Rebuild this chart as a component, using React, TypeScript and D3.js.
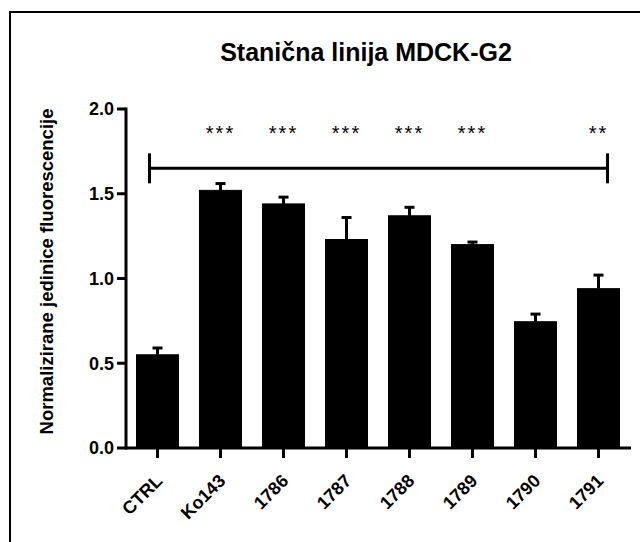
import * as d3 from 'd3';

const categories = ['CTRL', 'Ko143', '1786', '1787', '1788', '1789', '1790', '1791'];
const means = [0.55, 1.52, 1.44, 1.23, 1.37, 1.20, 0.745, 0.94];
const errors = [0.04, 0.04, 0.04, 0.13, 0.05, 0.015, 0.045, 0.08];
const stars = ['', '***', '***', '***', '***', '***', '', '**'];
const yTicks = [0, 0.5, 1.0, 1.5, 2.0];
const bracketLevel = 1.65;

const W = 640;
const H = 542;
const AXIS_LEFT = 126;
const AXIS_RIGHT = 631;
const FONT = '"Liberation Sans", Arial, Helvetica, sans-serif';

export default function App() {
  const x = d3.scaleBand<string>()
    .domain(categories)
    .range([AXIS_LEFT, AXIS_LEFT + 504])
    .paddingInner(1 / 3)
    .paddingOuter(1 / 6);

  const y = d3.scaleLinear().domain([0, 2]).range([448, 109]);

  const cx = (c: string) => (x(c) ?? 0) + x.bandwidth() / 2;
  const bracketLeft = cx(categories[0]) - 8;
  const bracketRight = cx(categories[categories.length - 1]) + 9;
  const by = y(bracketLevel);

  return (
    <svg width={W} height={H} style={{ position: 'absolute', left: 0, top: 0, background: '#fff' }}
      fontFamily={FONT}>
      {/* frame (cut off at right and bottom) */}
      <rect x={10} y={12} width={660} height={560} fill="none" stroke="#000" strokeWidth={2} />

      <text x={366} y={61} textAnchor="middle" fontSize={25} fontWeight="bold">
        Stanična linija MDCK-G2
      </text>

      {/* bars */}
      {categories.map((c, i) => (
        <rect key={c} x={x(c)} y={y(means[i])} width={x.bandwidth()}
          height={y(0) - y(means[i])} fill="#000" stroke="#000" strokeWidth={1} />
      ))}

      {/* error bars */}
      {categories.map((c, i) => (
        <g key={'e' + c} stroke="#000" strokeWidth={3}>
          <line x1={cx(c)} x2={cx(c)} y1={y(means[i])} y2={y(means[i] + errors[i])} />
          <line x1={cx(c) - 5} x2={cx(c) + 5} y1={y(means[i] + errors[i])} y2={y(means[i] + errors[i])} />
        </g>
      ))}

      {/* y axis */}
      <line x1={AXIS_LEFT} x2={AXIS_LEFT} y1={y(2) - 1.5} y2={y(0) + 1.5} stroke="#000" strokeWidth={3} />
      {yTicks.map(t => (
        <g key={t}>
          <line x1={AXIS_LEFT - 9} x2={AXIS_LEFT} y1={y(t)} y2={y(t)} stroke="#000" strokeWidth={3} />
          <text x={AXIS_LEFT - 12} y={y(t)} dy="0.36em" textAnchor="end" fontSize={18} fontWeight="bold">
            {d3.format('.1f')(t)}
          </text>
        </g>
      ))}

      {/* x axis */}
      <line x1={AXIS_LEFT} x2={AXIS_RIGHT} y1={y(0)} y2={y(0)} stroke="#000" strokeWidth={3} />
      {categories.map(c => (
        <g key={'t' + c}>
          <line x1={cx(c)} x2={cx(c)} y1={y(0)} y2={y(0) + 10} stroke="#000" strokeWidth={3} />
          <text transform={`translate(${cx(c) + 6},${y(0) + 34}) rotate(-45)`} textAnchor="end"
            fontSize={18} fontWeight="bold">
            {c}
          </text>
        </g>
      ))}

      <text transform={`translate(53,${y(1) - 7}) rotate(-90)`} textAnchor="middle" fontSize={18.5} fontWeight="bold">
        Normalizirane jedinice fluorescencije
      </text>

      {/* significance bracket */}
      <g stroke="#000" strokeWidth={3}>
        <line x1={bracketLeft} x2={bracketRight} y1={by} y2={by} />
        <line x1={bracketLeft} x2={bracketLeft} y1={by - 15} y2={by + 15} />
        <line x1={bracketRight} x2={bracketRight} y1={by - 15} y2={by + 15} />
      </g>
      {categories.map((c, i) => stars[i] ? (
        <text key={'s' + c} x={cx(c)} y={140} textAnchor="middle" fontSize={20} letterSpacing={2}>
          {stars[i]}
        </text>
      ) : null)}
    </svg>
  );
}
